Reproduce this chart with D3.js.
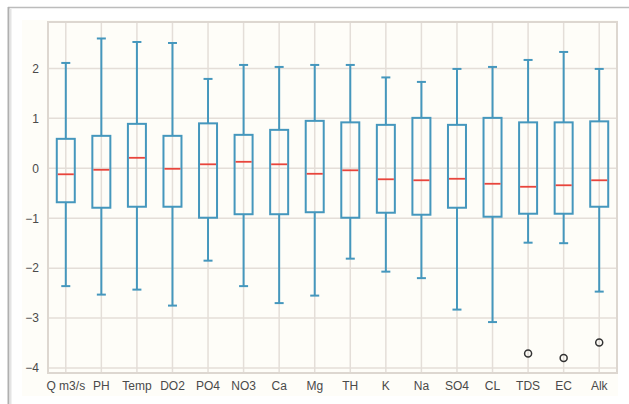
<!DOCTYPE html>
<html>
<head>
<meta charset="utf-8">
<script src="https://cdn.jsdelivr.net/npm/d3@7"></script>
<style>
  body { margin: 0; background: #fff; }
  svg { display: block; }
</style>
</head>
<body>
<div id="chart"></div>
<script>
'use strict';

// one entry per column
var categories = ['Q m3/s', 'PH', 'Temp', 'DO2', 'PO4', 'NO3', 'Ca', 'Mg', 'TH', 'K', 'Na', 'SO4', 'CL', 'TDS', 'EC', 'Alk'];
var whiskerHigh = [2.11, 2.60, 2.53, 2.51, 1.79, 2.07, 2.03, 2.07, 2.07, 1.82, 1.73, 1.99, 2.03, 2.17, 2.33, 1.99];
var q3 =          [0.59, 0.65, 0.89, 0.65, 0.90, 0.67, 0.77, 0.95, 0.92, 0.87, 1.01, 0.87, 1.01, 0.92, 0.92, 0.94];
var medians =     [-0.12, -0.03, 0.21, -0.01, 0.08, 0.13, 0.08, -0.11, -0.04, -0.22, -0.24, -0.21, -0.31, -0.37, -0.34, -0.24];
var q1 =          [-0.68, -0.79, -0.77, -0.77, -0.99, -0.92, -0.92, -0.88, -0.99, -0.89, -0.93, -0.79, -0.97, -0.91, -0.91, -0.77];
var whiskerLow =  [-2.36, -2.53, -2.43, -2.75, -1.85, -2.36, -2.70, -2.55, -1.81, -2.07, -2.20, -2.83, -3.08, -1.49, -1.50, -2.47];
var outliers = [
  {cat: 'TDS', value: -3.71},
  {cat: 'EC', value: -3.80},
  {cat: 'Alk', value: -3.49}
];
var yTicks = [-4, -3, -2, -1, 0, 1, 2];

var chart = {};
chart.width = 629;
chart.height = 404;
chart.plot = {left: 48, right: 617, top: 22, bottom: 373};
chart.boxColor = '#4597bd';
chart.medianColor = '#e8453c';
chart.gridColor = '#e4ded8';

chart.svg = d3.select('#chart').append('svg')
  .attr('width', chart.width)
  .attr('height', chart.height);

// screenshot frame and panel
chart.svg.append('rect')
  .attr('x', 22).attr('y', 20)
  .attr('width', 596).attr('height', 376)
  .attr('fill', '#fefdf8');
chart.svg.append('line')
  .attr('x1', 8).attr('x2', chart.width)
  .attr('y1', 7.5).attr('y2', 7.5)
  .attr('stroke', '#bcbcbc').attr('stroke-width', 1.5);
chart.svg.append('line')
  .attr('x1', 8.5).attr('x2', 8.5)
  .attr('y1', 7).attr('y2', chart.height)
  .attr('stroke', '#b0b0b0').attr('stroke-width', 2);
chart.svg.append('line')
  .attr('x1', 10.5).attr('x2', 10.5)
  .attr('y1', 9).attr('y2', chart.height)
  .attr('stroke', '#e4e4e4').attr('stroke-width', 2);

var x = d3.scaleBand()
  .domain(categories)
  .range([chart.plot.left, chart.plot.right]);

var y = d3.scaleLinear()
  .domain([-4.1, 2.93])
  .range([chart.plot.bottom, chart.plot.top]);

var cx = function(c) { return x(c) + x.bandwidth() / 2; };

// grid
var grid = chart.svg.append('g').attr('class', 'grid');
grid.selectAll('line.h')
  .data(yTicks)
  .enter().append('line')
  .attr('class', 'h')
  .attr('x1', chart.plot.left).attr('x2', chart.plot.right)
  .attr('y1', function(d) { return y(d); })
  .attr('y2', function(d) { return y(d); })
  .attr('stroke', chart.gridColor).attr('stroke-width', 1.5);
grid.selectAll('line.v')
  .data(categories)
  .enter().append('line')
  .attr('class', 'v')
  .attr('x1', cx).attr('x2', cx)
  .attr('y1', chart.plot.top).attr('y2', chart.plot.bottom)
  .attr('stroke', chart.gridColor).attr('stroke-width', 1.5);

chart.svg.append('rect')
  .attr('x', chart.plot.left).attr('y', chart.plot.top)
  .attr('width', chart.plot.right - chart.plot.left)
  .attr('height', chart.plot.bottom - chart.plot.top)
  .attr('fill', 'none')
  .attr('stroke', '#ddd7d0').attr('stroke-width', 2);

// axes (labels only, no tick marks)
var yAxis = chart.svg.append('g')
  .attr('transform', 'translate(' + chart.plot.left + ',0)')
  .call(d3.axisLeft(y).tickValues(yTicks).tickFormat(d3.format('d')).tickSize(0).tickPadding(9));
var xAxis = chart.svg.append('g')
  .attr('transform', 'translate(0,' + chart.plot.bottom + ')')
  .call(d3.axisBottom(x).tickSize(0).tickPadding(8));

[yAxis, xAxis].forEach(function(ax) {
  ax.select('.domain').remove();
  ax.selectAll('text')
    .style('font-family', '"Liberation Sans", Arial, sans-serif')
    .style('font-size', '12px')
    .attr('fill', '#4a4a4a');
});

// boxes
var stats = categories.map(function(c, i) {
  return {cat: c, hi: whiskerHigh[i], q3: q3[i], med: medians[i], q1: q1[i], lo: whiskerLow[i]};
});

var boxW = 18;
var capW = 9;
var boxes = chart.svg.append('g').attr('class', 'boxes')
  .selectAll('g')
  .data(stats)
  .enter().append('g');

boxes.append('line')
  .attr('x1', function(d) { return cx(d.cat); })
  .attr('x2', function(d) { return cx(d.cat); })
  .attr('y1', function(d) { return y(d.q3); })
  .attr('y2', function(d) { return y(d.hi); })
  .attr('stroke', chart.boxColor).attr('stroke-width', 2);
boxes.append('line')
  .attr('x1', function(d) { return cx(d.cat); })
  .attr('x2', function(d) { return cx(d.cat); })
  .attr('y1', function(d) { return y(d.q1); })
  .attr('y2', function(d) { return y(d.lo); })
  .attr('stroke', chart.boxColor).attr('stroke-width', 2);
['hi', 'lo'].forEach(function(k) {
  boxes.append('line')
    .attr('x1', function(d) { return cx(d.cat) - capW / 2; })
    .attr('x2', function(d) { return cx(d.cat) + capW / 2; })
    .attr('y1', function(d) { return y(d[k]); })
    .attr('y2', function(d) { return y(d[k]); })
    .attr('stroke', chart.boxColor).attr('stroke-width', 2);
});
boxes.append('rect')
  .attr('x', function(d) { return cx(d.cat) - boxW / 2; })
  .attr('width', boxW)
  .attr('y', function(d) { return y(d.q3); })
  .attr('height', function(d) { return y(d.q1) - y(d.q3); })
  .attr('fill', 'none')
  .attr('stroke', chart.boxColor).attr('stroke-width', 2);
boxes.append('line')
  .attr('x1', function(d) { return cx(d.cat) - boxW / 2 + 1; })
  .attr('x2', function(d) { return cx(d.cat) + boxW / 2 - 1; })
  .attr('y1', function(d) { return y(d.med); })
  .attr('y2', function(d) { return y(d.med); })
  .attr('stroke', chart.medianColor).attr('stroke-width', 1.8);

// fliers
chart.svg.append('g').selectAll('circle')
  .data(outliers)
  .enter().append('circle')
  .attr('cx', function(d) { return cx(d.cat); })
  .attr('cy', function(d) { return y(d.value); })
  .attr('r', 3.5)
  .attr('fill', 'none')
  .attr('stroke', '#333').attr('stroke-width', 1.5);
</script>
</body>
</html>
